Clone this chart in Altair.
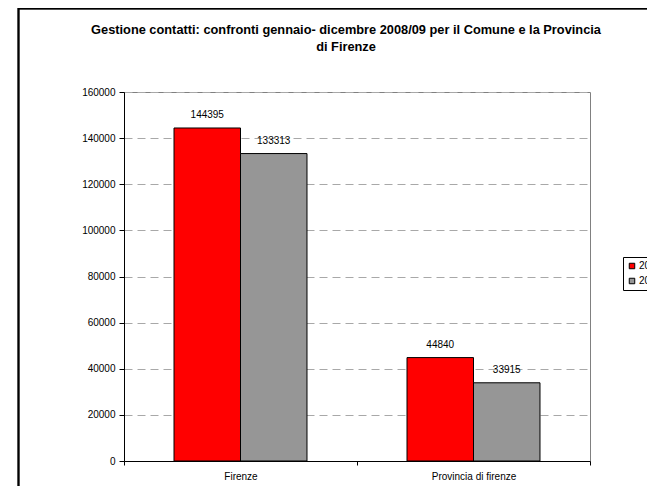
import altair as alt
import pandas as pd

categories = ["Firenze", "Provincia di firenze"]
years = ["2008", "2009"]
values_2008 = [144395, 44840]
values_2009 = [133313, 33915]
y_ticks = [0, 20000, 40000, 60000, 80000, 100000, 120000, 140000, 160000]
title_line1 = "Gestione contatti: confronti gennaio- dicembre 2008/09 per il Comune e la Provincia"
title_line2 = "di Firenze"
colors = ["#ff0000", "#969696"]

rows = []
for c, v8, v9 in zip(categories, values_2008, values_2009):
    rows.append({"categoria": c, "anno": years[0], "valore": v8})
    rows.append({"categoria": c, "anno": years[1], "valore": v9})
df = pd.DataFrame(rows)

FONT = "Liberation Sans"

x = alt.X(
    "categoria:N",
    sort=categories,
    scale=alt.Scale(paddingInner=0, paddingOuter=0),
    axis=alt.Axis(
        title=None, labelAngle=0, tickBand="extent", tickSize=4, tickColor="black",
        domainColor="black", labelFontSize=10, labelFont=FONT, labelColor="black",
        labelPadding=6, grid=False,
    ),
)
xoff = alt.XOffset("anno:N", sort=years, scale=alt.Scale(paddingInner=0, paddingOuter=0.752))
y = alt.Y(
    "valore:Q",
    scale=alt.Scale(domain=[0, 160000]),
    axis=alt.Axis(
        title=None, values=y_ticks, format="d", grid=True, gridDash=[8, 5],
        gridColor="#a8a8a8", tickSize=5, tickColor="black", domainColor="black",
        labelFontSize=10, labelFont=FONT, labelColor="black", labelPadding=4,
    ),
)

bars = alt.Chart(df).mark_bar(stroke="black", strokeWidth=1).encode(
    x=x, xOffset=xoff, y=y,
    color=alt.Color(
        "anno:N", sort=years,
        scale=alt.Scale(domain=years, range=colors),
        legend=alt.Legend(
            title=None, orient="none", legendX=499, legendY=165,
            symbolType="square", symbolSize=30, symbolStrokeColor="black",
            symbolStrokeWidth=1, strokeColor="black", fillColor="white",
            padding=4, labelFontSize=10, labelFont=FONT, labelColor="black",
            rowPadding=5, labelOffset=2,
        ),
    ),
)

labels = alt.Chart(df).mark_text(
    dy=-13, baseline="middle", fontSize=10, font=FONT, color="black"
).encode(x=x, xOffset=xoff, y=y, text=alt.Text("valore:Q", format="d"))

frame = alt.Chart(df).mark_rect(
    fillOpacity=0, stroke="black", strokeWidth=1.5
).encode(
    x=alt.value(-105.5), x2=alt.value(700), y=alt.value(-83.5), y2=alt.value(700)
)

title1 = alt.Chart(pd.DataFrame({"t": [title_line1]})).mark_text(
    fontSize=12.8, font=FONT, fontWeight="bold", color="black",
    align="center", baseline="alphabetic",
).encode(x=alt.value(222), y=alt.value(-58), text="t:N")
title2 = alt.Chart(pd.DataFrame({"t": [title_line2]})).mark_text(
    fontSize=12.8, font=FONT, fontWeight="bold", color="black",
    align="center", baseline="alphabetic",
).encode(x=alt.value(222), y=alt.value(-41), text="t:N")

chart = alt.layer(frame, title1, title2, bars, labels).properties(
    width=466, height=369,
    autosize=alt.AutoSizeParams(type="none"),
    padding={"left": 116, "top": 84, "right": 57, "bottom": 25},
).configure_view(stroke="#808080", strokeWidth=1)

chart.save("out.html", embed_options={"renderer": "svg", "actions": False})
